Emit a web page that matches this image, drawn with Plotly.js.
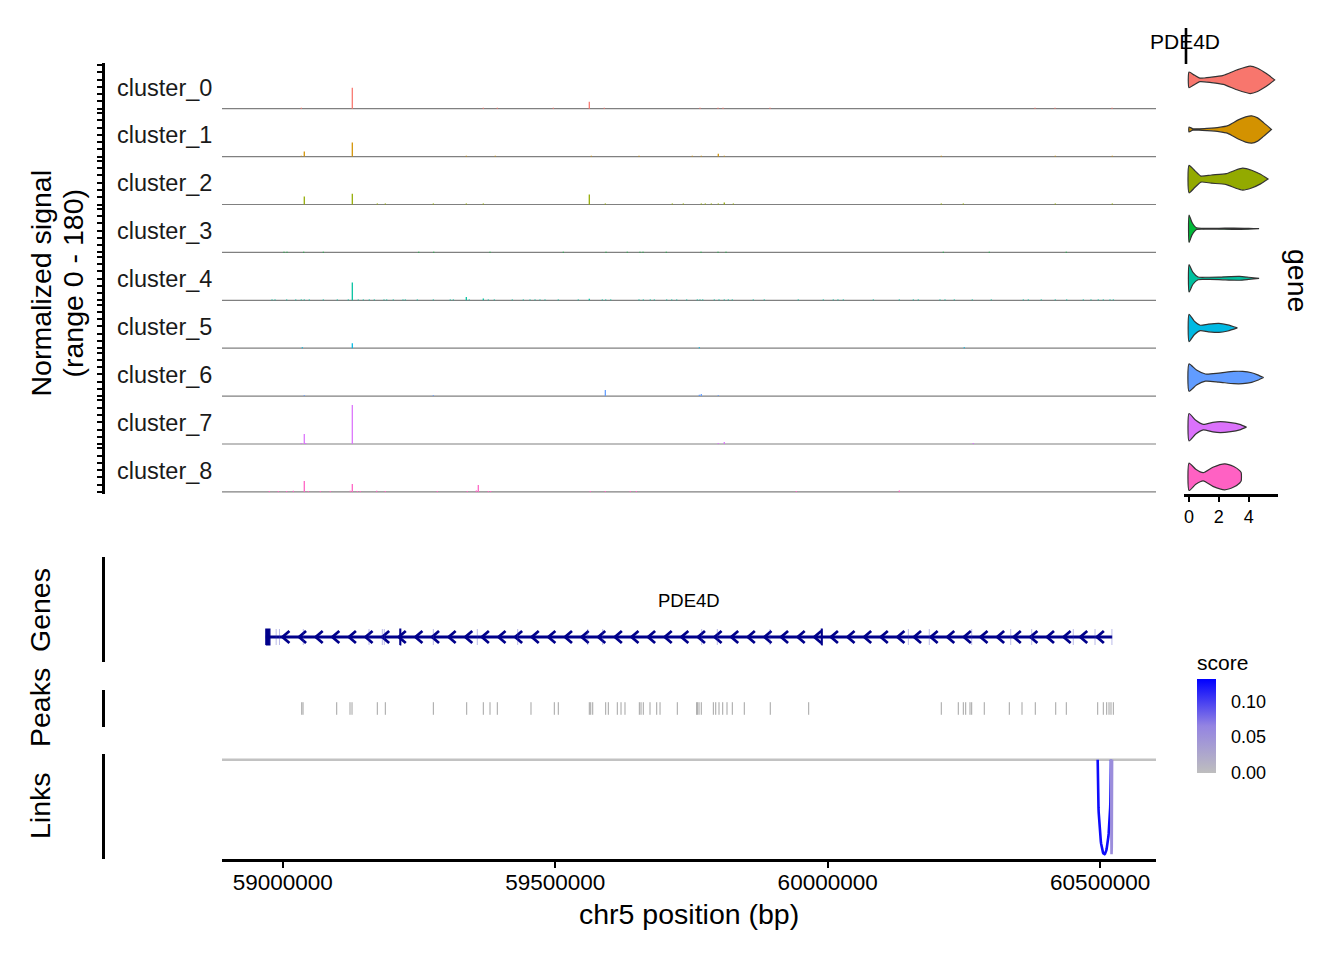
<!DOCTYPE html>
<html><head><meta charset="utf-8">
<script src="https://cdn.plot.ly/plotly-3.0.1.min.js"></script>
<style>html,body{margin:0;padding:0;background:#fff}#chart{width:1344px;height:960px}</style>
</head><body><div id="chart"></div>
<script>
// ---------------- DATA ----------------
const clusters = ['cluster_0','cluster_1','cluster_2','cluster_3','cluster_4','cluster_5','cluster_6','cluster_7','cluster_8'];
const clusterColors = ['#F8766D','#D39200','#93AA00','#00BA38','#00C19F','#00B9E3','#619CFF','#DB72FB','#FF61C3'];

const cov0_pos = [59034100,59127700,59368100,59393800,59496600,59562600,59590100,59765700,59798800,59808000,59894200,60380500,60417200,60521800];
const cov0_val = [4,87,4,4,4,29,4,4,4,4,4,4,4,4];
const cov1_pos = [59034100,59039600,59127700,59336900,59390100,59566300,59653800,59751600,59768100,59799300,59810300,60208500,60417700,60522300];
const cov1_val = [4,21,58,4,4,4,4,4,4,12,4,4,4,4];
const cov2_pos = [59039600,59127700,59173600,59188300,59276400,59336900,59368100,59562600,59592000,59714900,59735100,59768100,59775500,59786500,59799300,59810300,59826900,60208500,60248900,60417700,60522300];
const cov2_val = [33,45,4,4,4,4,4,41,4,4,4,4,4,4,4,8,4,4,4,4,4];
const cov3_pos = [59002400,59007900,59038500,59074500,59249600,59277100,59380400,59514900,59593300,59632300,59655600,59661200,59703900,59767600,59798800,59813500,60212200,60296600,60437900];
const cov3_val = [3,3,3,3,3,3,3,3,3,3,3,3,3,3,3,3,3,3,3];
const cov4_pos = [58980400,58985900,59007300,59023900,59034100,59039600,59048800,59074500,59100200,59120400,
  59127700,59138700,59147900,59158900,59168100,59185900,59190800,59202900,59220700,59225000,
  59247000,59276400,59307500,59313100,59336900,59342400,59368100,59377300,59388300,59421300,
  59441500,59453800,59463000,59472100,59481300,59505700,59542400,59562600,59586500,59592700,
  59601900,59653800,59661700,59674500,59681900,59704600,59713800,59723000,59741300,59760800,
  59765700,59770700,59792000,59800600,59810300,59817700,59825000,59863500,59883700,59946100,
  59992000,60010300,60018900,60028700,60083800,60131500,60157200,60166300,60206100,60215300,
  60232400,60265400,60300300,60359000,60368200,60392000,60417700,60438600,60469100,60483200,
  60496600,60505800,60518100,60524200];
const cov4_val = [3,3,3,3,3,3,3,3,3,3,
  74,3,3,3,3,3,3,3,3,3,
  3,3,3,3,14,3,8,3,3,3,
  3,3,3,3,3,3,3,6,3,3,
  3,3,3,3,3,3,3,3,3,3,
  3,3,3,3,3,3,3,3,3,3,
  3,3,3,3,3,3,3,3,3,3,
  3,3,3,3,3,3,3,3,3,3,
  3,3,3,3];
const cov5_pos = [59036000,59127700,59764500,60250700];
const cov5_val = [4,21,4,4];
const cov6_pos = [59039600,59276400,59592000,59764500,59768100,59799300];
const cov6_val = [4,4,25,6,9,4];
const cov7_pos = [59034100,59039600,59042200,59127700,59799300,59810300,60267300];
const cov7_val = [4,41,4,161,4,8,4];
const cov8_pos = [58975400,58991900,59007300,59019500,59039600,59047000,59069000,59087300,59124000,59127700,59136900,59142400,59172500,59188300,59283700,59338700,59355300,59358900,59377300,59381700,59564400,59592000,59637800,59648900,59942400,60131500];
const cov8_val = [4,4,4,5,45,4,4,4,5,33,4,4,5,4,4,4,6,29,4,4,4,4,4,4,4,6];

const signalMax = 180;
const xTicks = [59000000,59500000,60000000,60500000];
const xTickText = ['59000000','59500000','60000000','60500000'];

const gene_name = 'PDE4D';
const gene_start = 58969038;
const gene_end = 60522120;
const exon_start = [58969038,58987600,58993700,59037700,59158300,59182700,59186300,59215000,59276300,59357000,59431100,59559600,59587100,59768800,59797400,59894100,59988400,60148000,60186000,60264200,60335800,60374300,60450600,60490500,60521500];
const exon_end   = [58976500,58988400,58994500,59037900,59158500,59182900,59186500,59216600,59276500,59357200,59431300,59559800,59587300,59769000,59797600,59894300,59990000,60148200,60187000,60264400,60336000,60374500,60450800,60490700,60521700];

const peak_pos = [59034900,59037300,59099100,59123500,59127200,59173600,59188300,59276400,59337600,59368100,59380400,59393800,59455600,59498400,59505700,59562600,59565200,59568900,59592700,59597500,59614000,59620800,59628100,59654400,59657500,59661700,59674000,59686300,59692400,59724100,59759700,59760800,59763900,59768100,59790200,59794600,59800600,59807400,59815300,59825000,59847000,59894700,59965200,60208500,60239700,60248900,60253300,60261200,60264300,60287400,60333300,60356600,60381000,60418500,60437900,60495500,60505800,60512000,60516300,60519900,60524200];

const link_start = [60495500,60519900];
const link_end   = [60519900,60521900];
const link_score = [0.125,0.055];
const scoreMax = 0.131;
const scoreTicks = [0,0.05,0.10];
const scoreTickText = ['0.00','0.05','0.10'];

const vln0_x=[0,0.35,0.72,1.5,2.3,3.2,4.1,4.6,5.0,5.4,5.75], vln0_w=[0.57,0.35,0.13,0.2,0.33,0.72,1.0,0.85,0.6,0.3,0];
const vln1_x=[0,0.25,0.7,1.2,2.0,2.6,3.3,3.8,4.2,4.6,5.0,5.53], vln1_w=[0.18,0.05,0.05,0.08,0.15,0.28,0.7,0.92,1.0,0.85,0.5,0];
const vln2_x=[0,0.4,0.8,1.5,2.5,3.1,3.6,4.2,4.8,5.3], vln2_w=[1.0,0.6,0.22,0.3,0.4,0.65,0.8,0.65,0.35,0];
const vln3_x=[0,0.2,0.5,1.0,2.0,3.0,4.0,4.7], vln3_w=[1.0,0.45,0.06,0.03,0.03,0.05,0.03,0];
const vln4_x=[0,0.25,0.6,1.2,2.0,2.8,3.4,4.0,4.7], vln4_w=[1.0,0.45,0.1,0.08,0.09,0.13,0.14,0.08,0];
const vln5_x=[0,0.35,0.75,1.3,2.0,2.6,3.24], vln5_w=[1.0,0.5,0.2,0.28,0.33,0.22,0];
const vln6_x=[0,0.5,1.1,2.0,3.0,3.6,4.2,4.6,5.0], vln6_w=[1.0,0.55,0.26,0.33,0.45,0.45,0.35,0.2,0];
const vln7_x=[0,0.45,0.95,1.6,2.1,2.8,3.4,3.85], vln7_w=[1.0,0.5,0.2,0.35,0.4,0.33,0.2,0];
const vln8_x=[0,0.45,0.95,1.6,2.4,3.0,3.4,3.5], vln8_w=[1.0,0.55,0.3,0.7,0.95,0.75,0.45,0.3];
const vlnTicks = [0,2,4];

// ---------------- LAYOUT HELPERS ----------------
const W = 1344, Hh = 960;
const FONT = '"Liberation Sans", Arial, Helvetica, sans-serif';
const px2x = p => p / W;
const px2y = p => 1 - p / Hh;
const plotL = 222, plotR = 1156;
const axisX = 103;
const trackTop0 = 63, trackH = 47.9;

const covPos = [cov0_pos,cov1_pos,cov2_pos,cov3_pos,cov4_pos,cov5_pos,cov6_pos,cov7_pos,cov8_pos];
const covVal = [cov0_val,cov1_val,cov2_val,cov3_val,cov4_val,cov5_val,cov6_val,cov7_val,cov8_val];
const vlnX = [vln0_x,vln1_x,vln2_x,vln3_x,vln4_x,vln5_x,vln6_x,vln7_x,vln8_x];
const vlnW = [vln0_w,vln1_w,vln2_w,vln3_w,vln4_w,vln5_w,vln6_w,vln7_w,vln8_w];

const traces = [];
const shapes = [];
const annotations = [];
const layout = {
  width: W, height: Hh,
  margin: {l:0, r:0, t:0, b:0},
  paper_bgcolor: '#fff', plot_bgcolor: 'rgba(0,0,0,0)',
  showlegend: false, barmode: 'overlay',
  font: {family: FONT, color: '#000'},
};

const pad = signalMax * 0.05;
const yRef = n => n === 1 ? 'y' : 'y' + n;
const yKey = n => n === 1 ? 'yaxis' : 'yaxis' + n;

// coverage tracks
clusters.forEach((c, i) => {
  const n = i + 1;
  const top = trackTop0 + trackH * i, bot = top + trackH;
  layout[yKey(n)] = {
    domain: [px2y(bot), px2y(top)], range: [-pad, signalMax + pad],
    anchor: 'free', position: px2x(axisX),
    showline: true, linecolor: '#000', linewidth: 2.6,
    ticks: 'outside', ticklen: 5, tickwidth: 2, tickcolor: '#000',
    tickmode: 'linear', tick0: 0, dtick: 30,
    showticklabels: false, showgrid: false, zeroline: false, fixedrange: true
  };
  shapes.push({type:'line', layer:'below', xref:'paper', x0:px2x(plotL), x1:px2x(plotR),
    yref: yRef(n), y0:0, y1:0, line:{color:'#808080', width:1.2}});
  traces.push({type:'bar', x: covPos[i], y: covVal[i], width: 2300, xaxis:'x', yaxis: yRef(n),
    marker:{color: clusterColors[i], line:{width:0}}, hoverinfo:'skip'});
  annotations.push({xref:'paper', yref:'paper', x:px2x(114.5), y:px2y(top + 24.5), xanchor:'left', yanchor:'middle',
    text: c, showarrow:false, font:{size:23.5, color:'#1a1a1a'}});
});

// genes track (y10)
layout.yaxis10 = {domain:[px2y(662), px2y(557)], range:[-0.3125, 1], anchor:'free', position:px2x(axisX),
  showline:true, linecolor:'#000', linewidth:2.6, ticks:'', showticklabels:false, showgrid:false, zeroline:false};
const geneColor = '#00008B';
traces.push({type:'scatter', mode:'lines', x:[gene_start, gene_end], y:[0,0], xaxis:'x', yaxis:'y10',
  line:{color:geneColor, width:3}, hoverinfo:'skip'});
// strand chevrons (minus strand), spaced along the gene body
{
  const step = 30500, dx = 12800, dy = 0.075;
  const cx = [], cy = [];
  for (let p = gene_start + step; p < gene_end - step / 2; p += step) {
    cx.push(p + dx, p, p + dx, null); cy.push(dy, 0, -dy, null);
  }
  traces.push({type:'scatter', mode:'lines', x:cx, y:cy, xaxis:'x', yaxis:'y10',
    line:{color:geneColor, width:2.8}, hoverinfo:'skip'});
}
// exons
{
  const bpPerPx = (60602500 - 58888600) / (plotR - plotL);
  const thinX = [], thinY = [];
  exon_start.forEach((s, k) => {
    const e = exon_end[k];
    const wpx = (e - s) / bpPerPx;
    if (wpx >= 0.8) {
      traces.push({type:'scatter', mode:'lines', x:[s,e,e,s,s], y:[-0.1,-0.1,0.1,0.1,-0.1], fill:'toself',
        fillcolor:geneColor, xaxis:'x', yaxis:'y10', line:{color:geneColor, width:1.2}, hoverinfo:'skip'});
    } else {
      const m = (s + e) / 2;
      thinX.push(m, m, null); thinY.push(-0.1, 0.1, null);
    }
  });
  traces.push({type:'scatter', mode:'lines', x:thinX, y:thinY, xaxis:'x', yaxis:'y10',
    line:{color:'rgba(60,60,190,0.35)', width:1}, hoverinfo:'skip'});
}
annotations.push({xref:'x', yref:'y10', x:(gene_start + gene_end) / 2, y:0.46, text:gene_name, showarrow:false,
  xanchor:'center', yanchor:'middle', font:{size:18.5, color:'#000'}});

// peaks track (y11)
layout.yaxis11 = {domain:[px2y(727), px2y(690)], range:[0,1], anchor:'free', position:px2x(axisX),
  showline:true, linecolor:'#000', linewidth:2.6, ticks:'', showticklabels:false, showgrid:false, zeroline:false};
{
  const px = [], py = [];
  peak_pos.forEach(p => { px.push(p, p, null); py.push(0.33, 0.67, null); });
  traces.push({type:'scatter', mode:'lines', x:px, y:py, xaxis:'x', yaxis:'y11',
    line:{color:'#a3a3a3', width:1}, hoverinfo:'skip'});
}

// links track (y12)
layout.yaxis12 = {domain:[px2y(859), px2y(754)], range:[-1.05, 0.06], anchor:'free', position:px2x(axisX),
  showline:true, linecolor:'#000', linewidth:2.6, ticks:'', showticklabels:false, showgrid:false, zeroline:false};
shapes.push({type:'line', layer:'below', xref:'paper', x0:px2x(plotL), x1:px2x(plotR), yref:'y12', y0:0, y1:0,
  line:{color:'#c2c2c2', width:2.6}});
const scoreScale = [[0,'#bebebe'],[0.5,'#9484e2'],[1,'#0000ff']];
function hex2rgb(h){return [parseInt(h.slice(1,3),16),parseInt(h.slice(3,5),16),parseInt(h.slice(5,7),16)];}
function scoreColor(s){
  const t = Math.max(0, Math.min(1, s / scoreMax));
  for (let k = 1; k < scoreScale.length; k++) {
    if (t <= scoreScale[k][0]) {
      const a = hex2rgb(scoreScale[k-1][1]), b = hex2rgb(scoreScale[k][1]);
      const f = (t - scoreScale[k-1][0]) / (scoreScale[k][0] - scoreScale[k-1][0]);
      return 'rgb(' + a.map((v, j) => Math.round(v + (b[j] - v) * f)).join(',') + ')';
    }
  }
  return scoreScale[scoreScale.length-1][1];
}
link_start.forEach((s, k) => {
  const e = link_end[k], d = 1 / 0.75;
  const bx = [], by = [];
  for (let i = 0; i <= 60; i++) {
    const t = i / 60, u = 1 - t;
    bx.push(u*u*u*s + 3*u*u*t*s + 3*u*t*t*e + t*t*t*e);
    by.push(3*u*u*t*(-d) + 3*u*t*t*(-d));
  }
  traces.push({type:'scatter', mode:'lines', x:bx, y:by, xaxis:'x', yaxis:'y12',
    line:{color:scoreColor(link_score[k]), width:2.6}, hoverinfo:'skip'});
});
// colour scale legend for link score (bar 679-773 px, title above)
traces.push({type:'scatter', mode:'markers', x:link_start, y:[0,0], xaxis:'x', yaxis:'y12', hoverinfo:'skip',
  marker:{size:1, opacity:0, color:link_score, colorscale:scoreScale, cmin:0, cmax:scoreMax, showscale:true,
    colorbar:{x:px2x(1197), xanchor:'left', xref:'paper', y:px2y(773), yanchor:'bottom', yref:'paper',
      len:122, lenmode:'pixels', thickness:19, thicknessmode:'pixels', xpad:0, ypad:0, outlinewidth:0,
      tickvals:scoreTicks, ticktext:scoreTickText, ticks:'outside', ticklen:12, tickcolor:'rgba(0,0,0,0)',
      tickfont:{size:18, color:'#000'},
      title:{text:'score', side:'top', font:{size:21, color:'#000'}}}}});

// main x axis (bottom)
layout.xaxis = {domain:[px2x(plotL), px2x(plotR)], range:[58888600, 60602500], anchor:'y12',
  showline:true, linecolor:'#000', linewidth:2.6, ticks:'outside', ticklen:6, tickwidth:2, tickcolor:'#000',
  tickvals:xTicks, ticktext:xTickText, tickfont:{size:22.5, color:'#000'}, ticklabelstandoff:-5,
  showgrid:false, zeroline:false, fixedrange:true};

// violin panel (x2 / y13)
layout.xaxis2 = {domain:[px2x(1184), px2x(1278)], range:[-0.34, 5.97], anchor:'y13',
  showline:true, linecolor:'#000', linewidth:2.6, ticks:'outside', ticklen:5, tickwidth:2, tickcolor:'#000',
  tickvals:vlnTicks, ticktext:vlnTicks.map(String), tickfont:{size:18, color:'#000'},
  showgrid:false, zeroline:false};
layout.yaxis13 = {domain:[px2y(494), px2y(64)], range:[8.347, -0.32], anchor:'x2', visible:false};
const vH = 0.276;
clusters.forEach((c, i) => {
  const xs = vlnX[i], ws = vlnW[i];
  const x = xs.concat(xs.slice().reverse(), [xs[0]]);
  const y = ws.map(w => i - w * vH).concat(ws.slice().reverse().map(w => i + w * vH), [i - ws[0] * vH]);
  traces.push({type:'scatter', mode:'lines', x:x, y:y, xaxis:'x2', yaxis:'y13', fill:'toself',
    fillcolor:clusterColors[i], line:{color:'#333333', width:1.2, shape:'spline', smoothing:0.6}, hoverinfo:'skip'});
});
shapes.push({type:'line', xref:'paper', yref:'paper', x0:px2x(1186), x1:px2x(1186), y0:px2y(28), y1:px2y(64),
  line:{color:'#000', width:2.6}});

// titles
const ttl = (text, x, y, ang, size) => annotations.push({xref:'paper', yref:'paper', x:px2x(x), y:px2y(y),
  text:text, showarrow:false, xanchor:'center', yanchor:'middle', textangle:ang, font:{size:size, color:'#000'}});
ttl('Normalized signal', 40, 283.5, -90, 28.5);
ttl('(range 0 - ' + signalMax + ')', 72, 283.5, -90, 28.5);
ttl('Genes', 40, 610, -90, 28.5);
ttl('Peaks', 40, 708, -90, 28.5);
ttl('Links', 40, 806, -90, 28.5);
ttl('chr5 position (bp)', 689, 914, 0, 28.5);
ttl(gene_name, 1185, 42, 0, 21);
ttl('gene', 1298, 280, 90, 28.5);

layout.shapes = shapes;
layout.annotations = annotations;
Plotly.newPlot('chart', traces, layout, {displayModeBar:false, staticPlot:true});
</script>
</body></html>
